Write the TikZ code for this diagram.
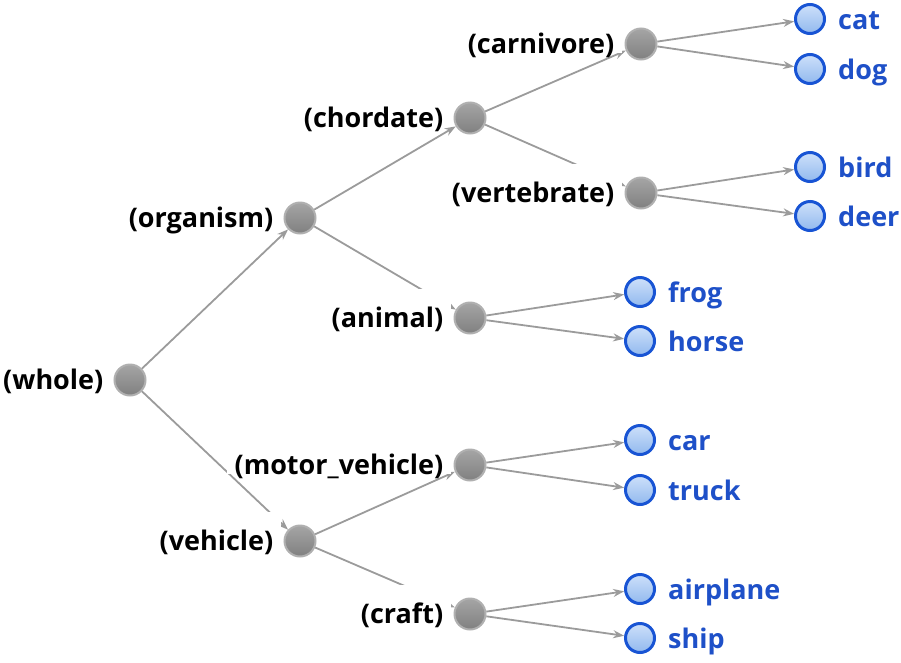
\documentclass[tikz,border=0pt]{standalone}
\usepackage{fontspec}
\setmainfont{Open Sans}
\usetikzlibrary{arrows.meta}
\definecolor{edgegray}{RGB}{155,155,155}
\definecolor{innerline}{RGB}{176,176,176}
\definecolor{innertop}{RGB}{165,165,165}
\definecolor{innerbot}{RGB}{128,128,128}
\definecolor{leafline}{RGB}{24,84,212}
\definecolor{leaftop}{RGB}{205,224,250}
\definecolor{leafbot}{RGB}{146,185,238}
\definecolor{leaftext}{RGB}{30,80,200}
\begin{document}
\begin{tikzpicture}[x=1pt, y=-1pt, font=\bfseries\fontsize{27}{32}\selectfont,
          inner/.style={circle, draw=innerline, line width=2pt, minimum size=31pt, inner sep=0pt, top color=innertop, bottom color=innerbot},
          leaf/.style={circle, draw=leafline, line width=3pt, minimum size=29pt, inner sep=0pt, top color=leaftop, bottom color=leafbot},
          tag/.style={fill=white, anchor=base east, inner xsep=8pt, inner ysep=0pt, text height=38pt, text depth=0pt},
          leaftag/.style={text=leaftext, anchor=base west, inner sep=0pt},
          link/.style={draw=edgegray, line width=1.8pt, -{Stealth[length=11pt, width=8pt]}}]
        \useasboundingbox (0,0) rectangle (901,662);
        % inner nodes
        \node[inner] (whole) at (130,380) {};
        \node[inner] (organism) at (300,218) {};
        \node[inner] (vehicle) at (300,541) {};
        \node[inner] (chordate) at (470,118) {};
        \node[inner] (animal) at (470,318) {};
        \node[inner] (motorvehicle) at (470,465) {};
        \node[inner] (craft) at (470,614) {};
        \node[inner] (carnivore) at (641,44) {};
        \node[inner] (vertebrate) at (641,193) {};
        % leaves
        \node[leaf] (cat) at (810,19) {};
        \node[leaf] (dog) at (810,69) {};
        \node[leaf] (bird) at (810,167) {};
        \node[leaf] (deer) at (810,216) {};
        \node[leaf] (frog) at (640,292) {};
        \node[leaf] (horse) at (640,341) {};
        \node[leaf] (car) at (640,440) {};
        \node[leaf] (truck) at (640,490) {};
        \node[leaf] (airplane) at (640,589) {};
        \node[leaf] (ship) at (640,638) {};
        % edges
        \draw[link] (whole) -- (organism);
        \draw[link] (whole) -- (vehicle);
        \draw[link] (organism) -- (chordate);
        \draw[link] (organism) -- (animal);
        \draw[link] (chordate) -- (carnivore);
        \draw[link] (chordate) -- (vertebrate);
        \draw[link] (vehicle) -- (motorvehicle);
        \draw[link] (vehicle) -- (craft);
        \draw[link] (carnivore) -- (cat);
        \draw[link] (carnivore) -- (dog);
        \draw[link] (vertebrate) -- (bird);
        \draw[link] (vertebrate) -- (deer);
        \draw[link] (animal) -- (frog);
        \draw[link] (animal) -- (horse);
        \draw[link] (motorvehicle) -- (car);
        \draw[link] (motorvehicle) -- (truck);
        \draw[link] (craft) -- (airplane);
        \draw[link] (craft) -- (ship);
        % labels
        \node[tag] (whole-l) at ([xshift=-2pt, yshift=-9pt] whole.west) {(whole)};
        \node[tag] (organism-l) at ([xshift=-2pt, yshift=-9pt] organism.west) {(organism)};
        \node[tag] (vehicle-l) at ([xshift=-2pt, yshift=-9pt] vehicle.west) {(vehicle)};
        \node[tag] (chordate-l) at ([xshift=-2pt, yshift=-9pt] chordate.west) {(chordate)};
        \node[tag] (animal-l) at ([xshift=-2pt, yshift=-9pt] animal.west) {(animal)};
        \node[tag] (motorvehicle-l) at ([xshift=-2pt, yshift=-9pt] motorvehicle.west) {(motor\_vehicle)};
        \node[tag] (craft-l) at ([xshift=-2pt, yshift=-9pt] craft.west) {(craft)};
        \node[tag] (carnivore-l) at ([xshift=-2pt, yshift=-9pt] carnivore.west) {(carnivore)};
        \node[tag] (vertebrate-l) at ([xshift=-2pt, yshift=-9pt] vertebrate.west) {(vertebrate)};
        \node[leaftag] (cat-l) at ([xshift=12pt, yshift=-10pt] cat.east) {cat};
        \node[leaftag] (dog-l) at ([xshift=12pt, yshift=-10pt] dog.east) {dog};
        \node[leaftag] (bird-l) at ([xshift=12pt, yshift=-10pt] bird.east) {bird};
        \node[leaftag] (deer-l) at ([xshift=12pt, yshift=-10pt] deer.east) {deer};
        \node[leaftag] (frog-l) at ([xshift=12pt, yshift=-10pt] frog.east) {frog};
        \node[leaftag] (horse-l) at ([xshift=12pt, yshift=-10pt] horse.east) {horse};
        \node[leaftag] (car-l) at ([xshift=12pt, yshift=-10pt] car.east) {car};
        \node[leaftag] (truck-l) at ([xshift=12pt, yshift=-10pt] truck.east) {truck};
        \node[leaftag] (airplane-l) at ([xshift=12pt, yshift=-10pt] airplane.east) {airplane};
        \node[leaftag] (ship-l) at ([xshift=12pt, yshift=-10pt] ship.east) {ship};
      \end{tikzpicture}
\end{document}
